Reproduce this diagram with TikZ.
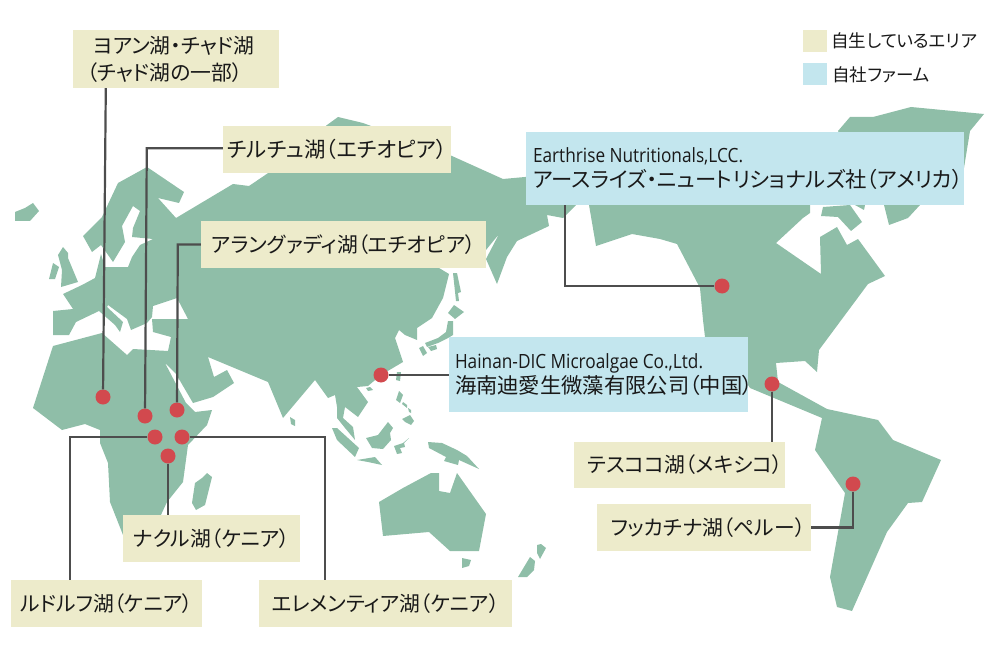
\documentclass[tikz,border=0pt]{standalone}
\usepackage{fontspec}
\setmainfont{Noto Sans CJK JP}[RawFeature=+palt]
\newfontfamily\latinf{Open Sans}[FakeStretch=0.88]
\newcommand{\latinline}{\latinf\fontsize{19.6}{25}\selectfont\spaceskip=0.22em\relax}
\definecolor{land}{HTML}{8FBEA8}
\definecolor{wild}{HTML}{EDEBCB}
\definecolor{farm}{HTML}{C3E6EE}
\definecolor{pin}{HTML}{D2494E}
\definecolor{wire}{HTML}{4D4D4D}
\tikzset{
  landmass/.style={fill=land,draw=none},
  wildbox/.style={fill=wild,draw=none,inner sep=0pt,text=black!90,font=\fontsize{20.8}{27}\selectfont},
  farmbox/.style={fill=farm,draw=none,inner sep=0pt,text=black!90,font=\fontsize{21.3}{25}\selectfont,align=left},
  pinmark/.style={circle,fill=pin,draw=none,inner sep=0pt,minimum size=15pt},
  wireline/.style={draw=wire,line width=2.2pt},
  keytext/.style={inner sep=0pt,anchor=west,text=black!90,font=\fontsize{17.6}{20}\selectfont}
}
\begin{document}
\begin{tikzpicture}[x=1pt,y=-1pt]
\useasboundingbox (0,0) rectangle (1000,652);
% Eurasia and Africa
\fill[landmass] (53,311)--(73,309)--(63,294)--(82,285)--(95,278)--(101,254)--(105,267)--(128,267)--(132,257)--(140,245)--(153,239)--(132,237)--(133,228)--(140,211)--(133,206)--(122,226)--(125,242)--(113,262)--(101,245)--(92,252)--(83,236)--(102,217)--(118,183)--(147,167)--(184,192)--(179,203)--(158,198)--(176,218)--(233,184)--(249,186)--(280,165)--(327,125)--(338,117)--(363,123)--(452,156)--(503,179)--(525,177)--(560,170)--(576,205)--(563,218)--(547,215)--(549,226)--(517,241)--(507,257)--(497,284)--(486,259)--(499,234)--(486,250)--(470,262)--(439,268)--(449,274)--(443,298)--(432,318)--(417,328)--(417,340)--(405,335)--(399,330)--(395,338)--(403,362)--(381,375)--(368,386)--(357,387)--(368,402)--(358,417)--(345,407)--(343,418)--(353,427)--(355,440)--(345,428)--(337,418)--(337,407)--(335,395)--(328,398)--(315,380)--(283,418)--(268,382)--(208,357)--(214,377)--(227,370)--(234,383)--(213,397)--(193,403)--(176,374)--(165,363)--(186,403)--(195,412)--(212,410)--(207,425)--(188,445)--(183,482)--(167,502)--(160,517)--(150,535)--(125,540)--(110,502)--(108,463)--(100,443)--(100,430)--(85,424)--(62,430)--(33,408)--(53,346)--(102,333)--(127,355)--(133,349)--(168,351)--(171,337)--(153,332)--(152,319)--(188,319)--(177,298)--(153,306)--(152,317)--(147,323)--(131,330)--(127,319)--(108,305)--(107,307)--(123,322)--(120,332)--(115,325)--(99,311)--(76,322)--(69,335)--(53,335)--cycle;
% Europe islands
\fill[landmass] (15,212)--(25,208)--(33,203)--(39,211)--(30,221)--(15,221)--cycle;
\fill[landmass] (63,247)--(68,253)--(68,258)--(78,282)--(61,287)--(62,270)--(58,255)--cycle;
\fill[landmass] (53,263)--(59,267)--(55,279)--(49,279)--cycle;
% Indian ocean
\fill[landmass] (290,417)--(295,420)--(295,426)--(291,424)--cycle;
\fill[landmass] (207,473)--(212,477)--(205,505)--(196,510)--(192,503)--(195,483)--(202,478)--cycle;
% Japan and neighbours
\fill[landmass] (453,273)--(457,273)--(461,292)--(458,293)--(459,301)--(456,301)--cycle;
\fill[landmass] (454,305)--(464,312)--(455,319)--(448,313)--cycle;
\fill[landmass] (448,321)--(453,321)--(453,335)--(448,338)--(438,343)--(427,347)--(425,343)--(438,338)--(446,332)--cycle;
\fill[landmass] (428,347)--(436,345)--(437,349)--(431,351)--cycle;
\fill[landmass] (419,348)--(423,346)--(427,353)--(423,356)--cycle;
% South-east Asia
\fill[landmass] (397,372)--(401,372)--(400,381)--(396,380)--cycle;
\fill[landmass] (366,388)--(370,387)--(373,390)--(368,391)--cycle;
\fill[landmass] (399,391)--(403,395)--(400,403)--(396,400)--cycle;
\fill[landmass] (403,402)--(407,405)--(407,408)--(402,404)--cycle;
\fill[landmass] (408,408)--(411,410)--(411,413)--(409,412)--cycle;
\fill[landmass] (402,419)--(410,415)--(414,421)--(411,425)--(405,422)--cycle;
\fill[landmass] (332,428)--(337,428)--(359,448)--(355,457)--(337,440)--cycle;
\fill[landmass] (357,460)--(375,457)--(382,465)--(368,462)--cycle;
\fill[landmass] (388,422)--(393,428)--(390,433)--(391,440)--(383,449)--(372,448)--(366,438)--(378,435)--cycle;
\fill[landmass] (409,438)--(403,443)--(394,446)--(397,454)--(402,453)--(400,448)--(405,447)--(404,443)--cycle;
\fill[landmass] (428,442)--(442,443)--(457,450)--(467,456)--(479,469)--(459,460)--(458,465)--(444,461)--(446,457)--(429,448)--cycle;
% Australia and New Zealand
\fill[landmass] (379,502)--(403,488)--(431,473)--(439,473)--(439,491)--(450,493)--(457,473)--(486,514)--(479,551)--(450,551)--(429,532)--(383,536)--cycle;
\fill[landmass] (462,558)--(471,560)--(469,566)--(462,568)--cycle;
\fill[landmass] (537,545)--(541,544)--(546,548)--(540,559)--(537,553)--cycle;
\fill[landmass] (530,557)--(535,561)--(534,570)--(527,577)--(518,577)--cycle;
% Americas
\fill[landmass] (589,205)--(596,246)--(632,234)--(660,239)--(677,244)--(700,288)--(703,320)--(705,337)--(748,385)--(750,388)--(822,418)--(815,450)--(845,493)--(830,577)--(837,607)--(852,611)--(887,532)--(908,503)--(922,502)--(941,460)--(893,440)--(878,420)--(827,409)--(778,382)--(776,363)--(805,361)--(817,372)--(819,350)--(868,284)--(885,276)--(858,239)--(847,245)--(837,227)--(820,237)--(821,274)--(776,243)--(803,218)--(810,213)--(810,140)--(600,140)--cycle;
\fill[landmass] (823,207)--(821,216)--(838,217)--(851,231)--(862,222)--(850,205)--cycle;
\fill[landmass] (855,205)--(864,210)--(865,205)--cycle;
\fill[landmass] (838,131)--(850,117)--(873,117)--(911,107)--(984,114)--(970,131)--(962,180)--(920,205)--(908,218)--(889,225)--(884,205)--cycle;
% Labels
\node[wildbox,minimum width=206pt,minimum height=58pt,align=left,text width=192pt] (lChad) at (176,59) {\hspace*{13pt}ヨアン湖・チャド湖\\\hspace*{7pt}（チャド湖の一部）};
\node[wildbox,font=\fontsize{21.4}{27}\selectfont,minimum width=228pt,minimum height=47pt] (lChir) at (337,149.5) {チルチュ湖（エチオピア）};
\node[wildbox,minimum width=285pt,minimum height=47pt] (lAran) at (343.5,244.5) {アラングァディ湖（エチオピア）};
\node[wildbox,minimum width=177pt,minimum height=47pt] (lNaku) at (211.5,538.5) {ナクル湖（ケニア）};
\node[wildbox,minimum width=191pt,minimum height=47pt] (lRudo) at (106.5,603.5) {ルドルフ湖（ケニア）};
\node[wildbox,minimum width=253pt,minimum height=47pt] (lElem) at (385.5,603.5) {エレメンティア湖（ケニア）};
\node[wildbox,minimum width=211pt,minimum height=46pt] (lTesu) at (679.5,465) {\hspace*{11pt}テスココ湖（メキシコ）};
\node[wildbox,minimum width=214pt,minimum height=47pt] (lFukk) at (704,527.5) {\hspace*{8pt}フッカチナ湖（ペルー）};
\node[farmbox,minimum width=438pt,minimum height=73pt,text width=424pt] (lEart) at (745,168.5) {{\latinline Earthrise Nutritionals,LCC.}\\アースライズ・ニュートリショナルズ社（アメリカ）};
\node[farmbox,minimum width=299pt,minimum height=75pt,text width=287pt] (lHain) at (598.5,374.5) {{\latinline Hainan-DIC Microalgae Co.,Ltd.}\\海南迪愛生微藻有限公司（中国）};
% Legend
\node[fill=wild,minimum width=24pt,minimum height=22pt,inner sep=0pt] (kWild) at (815,41) {};
\node[fill=farm,minimum width=24pt,minimum height=22pt,inner sep=0pt] (kFarm) at (815,74) {};
\node[keytext] (tWild) at (831,41) {自生しているエリア};
\node[keytext] (tFarm) at (832,74.5) {自社ファーム};
% Pins
\node[pinmark] (pChad) at (103,397) {};
\node[pinmark] (pChir) at (145,416) {};
\node[pinmark] (pAran) at (177,410) {};
\node[pinmark] (pRudo) at (155,437) {};
\node[pinmark] (pElem) at (182,437) {};
\node[pinmark] (pNaku) at (168,456) {};
\node[pinmark] (pHain) at (381,375) {};
\node[pinmark] (pEart) at (722,286) {};
\node[pinmark] (pTesu) at (772,384) {};
\node[pinmark] (pFukk) at (853,484) {};
% Connectors
\draw[wireline] ([xshift=33pt]lChad.south west) -- (pChad);
\draw[wireline] ([yshift=1.2pt]lChir.west) -- ++(-76,0) -- (pChir);
\draw[wireline] (lAran.west) -- ++(-23,0) -- (pAran);
\draw[wireline] (pNaku) -- (pNaku|-lNaku.north);
\draw[wireline] (pRudo) -| ([xshift=59pt]lRudo.north west);
\draw[wireline] (pHain) -- (pHain-|lHain.west);
\draw[wireline] ([xshift=39pt]lEart.south west) |- (pEart);
\draw[wireline] (pTesu) -- (pTesu|-lTesu.north);
\draw[wireline] (lFukk.east) -| (pFukk);
\draw[wireline] (pElem) -| ([xshift=66pt]lElem.north west);
\end{tikzpicture}
\end{document}
